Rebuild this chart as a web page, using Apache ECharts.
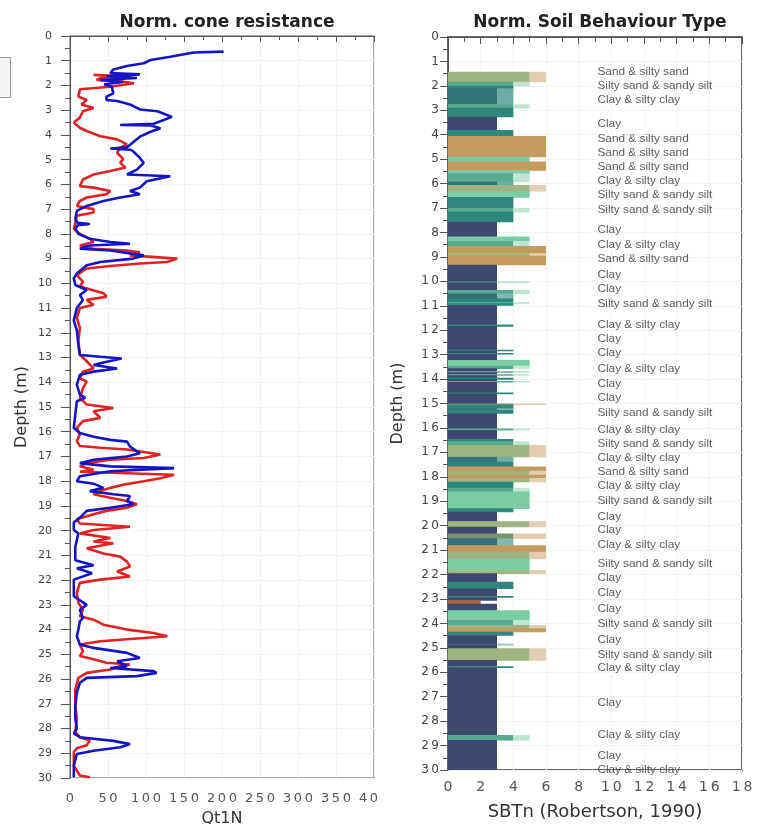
<!DOCTYPE html>
<html>
<head>
<meta charset="utf-8">
<script src="https://cdn.jsdelivr.net/npm/echarts/dist/echarts.min.js"></script>
<style>
html,body{margin:0;padding:0;background:#fff;}
#chart{width:762px;height:824px;}
</style>
</head>
<body>
<div id="chart"></div>
<script>
// ---------- DATA ----------
// Blue profile (Qt1N) : depth (m) and value
const blueDepth = [0.63,0.67,0.84,0.97,1.10,1.21,1.35,1.50,1.55,1.62,1.70,1.78,1.86,1.95,2.05,2.12,2.32,2.45,2.59,2.63,2.77,2.97,3.04,3.27,3.45,3.55,3.60,3.62,3.73,3.87,4.07,4.40,4.50,4.55,4.60,4.66,4.93,5.13,5.40,5.60,5.67,5.73,5.87,6.13,6.27,6.40,6.53,6.67,6.87,7.07,7.40,7.55,7.60,7.65,7.80,8.00,8.20,8.33,8.40,8.47,8.60,8.67,8.87,9.00,9.14,9.27,9.60,9.80,10.07,10.27,10.47,10.67,11.00,11.50,11.90,12.50,12.90,12.97,13.04,13.20,13.30,13.44,13.57,13.70,14.10,14.50,14.63,14.77,15.30,15.85,16.05,16.20,16.33,16.40,16.60,16.87,17.00,17.13,17.27,17.40,17.47,17.60,17.80,18.00,18.10,18.27,18.40,18.53,18.60,18.80,18.93,19.07,19.20,19.47,19.67,19.97,20.11,20.65,21.20,21.40,21.52,21.72,21.98,22.65,23.00,23.20,23.53,23.67,24.00,24.27,24.60,24.74,24.94,25.15,25.28,25.48,25.55,25.68,25.75,25.88,25.95,26.15,26.55,27.10,27.60,28.00,28.20,28.35,28.50,28.63,28.76,28.90,29.03,29.50,29.97];
const blueQt = [202,163,132,106,97,75,57,53,92,48,88,40,70,45,55,53,57,48,48,62,79,92,115,134,119,110,66,106,119,106,92,79,75,53,80,83,92,97,88,75,132,134,101,92,79,92,66,44,22,9,7,10,26,10,7,11,26,53,79,26,13,53,97,83,40,22,9,5,7,22,13,17,9,5,9,11,13,40,68,44,31,62,31,13,9,13,20,9,7,5,13,31,53,75,79,92,75,31,13,53,137,53,13,9,31,44,26,57,79,75,83,53,22,13,5,5,11,7,7,31,9,29,5,5,22,13,17,13,11,9,13,31,75,92,62,75,53,110,114,88,22,13,9,7,7,9,5,13,57,79,66,31,9,5,5];

// Red profile : depth (m) and value
const redDepth = [1.57,1.64,1.70,1.78,1.85,1.91,2.05,2.15,2.45,2.59,2.70,2.77,2.91,3.04,3.30,3.50,3.71,3.84,4.05,4.18,4.38,4.52,4.72,4.98,5.12,5.32,5.46,5.60,5.80,6.07,6.13,6.27,6.40,6.53,6.67,6.87,7.00,7.14,7.27,7.55,7.80,8.00,8.20,8.33,8.47,8.60,8.67,8.74,8.87,9.00,9.14,9.20,9.30,9.40,9.67,9.93,10.13,10.40,10.54,10.67,10.87,11.00,11.40,11.80,12.34,12.88,13.15,13.44,13.57,13.84,13.97,14.24,14.64,14.90,15.04,15.17,15.44,15.57,15.84,16.11,16.38,16.58,16.65,16.72,16.92,17.06,17.13,17.27,17.40,17.54,17.62,17.74,17.88,18.00,18.14,18.27,18.40,18.53,18.67,18.80,18.93,19.07,19.20,19.34,19.54,19.71,19.84,19.97,20.11,20.30,20.44,20.51,20.71,20.92,21.05,21.25,21.45,21.65,21.85,21.98,22.11,22.52,22.92,23.20,23.46,23.60,23.80,24.00,24.14,24.27,24.34,24.47,24.60,24.87,25.07,25.20,25.34,25.41,25.48,25.61,25.75,25.95,26.42,27.10,27.60,28.15,28.35,28.48,28.68,28.80,28.95,29.50,29.90,29.97];
const redQt = [31,75,40,35,70,84,53,13,11,22,18,15,31,17,13,5,13,22,40,62,75,66,62,70,66,73,53,31,17,13,31,53,48,22,13,9,31,31,9,7,5,13,26,31,13,31,75,92,79,141,128,92,53,22,9,17,13,44,48,22,31,13,9,13,11,13,22,31,17,13,22,17,13,22,57,31,40,17,9,13,9,13,40,75,119,97,53,22,13,31,13,137,119,97,70,53,40,31,53,75,88,75,48,31,9,13,79,31,13,53,31,57,22,44,66,75,79,62,79,40,13,9,11,17,13,31,44,75,110,128,97,40,13,17,13,31,48,79,66,53,22,11,7,7,9,7,13,26,22,9,5,5,13,26];

// SBTn layers: [top depth, bottom depth, low SBTn, high SBTn, share of high zone]
// (low != high => thin interleaved layers of both zones)
const sbtLayers = [
 [1.42,1.83,5,6,0.5],[1.83,2.00,4,5,0.5],[2.00,2.10,4,4,1],[2.10,2.75,3,4,0.7],[2.75,2.90,4,5,0.5],[2.90,3.26,4,4,1],
 [3.26,3.81,3,3,1],[3.81,4.05,4,4,1],[4.05,4.90,6,6,1],[4.90,5.10,5,5,1],[5.10,5.45,6,6,1],[5.45,5.58,5,5,1],
 [5.58,5.92,4,5,0.5],[5.92,6.06,3,4,0.7],[6.06,6.30,5,6,0.5],[6.30,6.55,5,5,1],[6.55,7.00,4,4,1],[7.00,7.15,4,5,0.5],
 [7.15,7.56,4,4,1],[7.56,8.17,3,3,1],[8.17,8.35,5,5,1],[8.35,8.55,4,5,0.5],[8.55,8.85,6,6,1],[8.85,8.95,5,6,0.5],
 [8.95,9.32,6,6,1],[9.32,10.00,3,3,1],[10.00,10.05,3,5,0.5],[10.05,10.35,3,3,1],[10.35,10.50,4,5,0.5],[10.50,10.70,3,4,0.6],
 [10.70,10.85,4,4,1],[10.85,10.90,4,5,0.5],[10.90,10.97,4,4,1],[10.97,11.77,3,3,1],[11.77,11.83,4,4,1],[11.83,12.80,3,3,1],
 [12.80,12.84,4,4,1],[12.84,12.93,3,3,1],[12.93,12.97,4,4,1],[12.97,13.22,3,3,1],[13.22,13.45,5,5,1],[13.45,13.56,4,5,0.5],
 [13.56,13.68,3,3,1],[13.68,13.72,4,5,0.5],[13.72,13.80,3,3,1],[13.80,13.84,4,5,0.5],[13.84,13.95,3,3,1],[13.95,14.00,4,4,1],
 [14.00,14.08,3,3,1],[14.08,14.12,4,5,0.5],[14.12,14.55,3,3,1],[14.55,14.60,4,4,1],[14.60,15.00,3,3,1],[15.00,15.05,4,6,0.5],
 [15.05,15.20,4,4,1],[15.20,15.27,3,4,0.6],[15.27,15.40,4,4,1],[15.40,16.02,3,3,1],[16.02,16.08,4,5,0.5],[16.08,16.45,3,3,1],
 [16.45,16.55,4,4,1],[16.55,16.70,4,5,0.5],[16.70,17.18,5,6,0.5],[17.18,17.38,3,4,0.7],[17.38,17.58,4,4,1],[17.58,17.75,6,6,1],
 [17.75,17.92,5,6,0.5],[17.92,18.05,6,6,1],[18.05,18.20,5,6,0.5],[18.20,18.45,4,4,1],[18.45,18.60,4,5,0.5],[18.60,19.29,5,5,1],
 [19.29,19.43,4,4,1],[19.43,19.82,3,3,1],[19.82,20.04,5,6,0.5],[20.04,20.32,3,3,1],[20.32,20.52,4,6,0.5],[20.52,20.80,3,4,0.6],
 [20.80,21.07,6,6,1],[21.07,21.35,5,6,0.5],[21.35,21.82,5,5,1],[21.82,21.95,5,6,0.5],[21.95,22.30,3,3,1],[22.30,22.57,4,4,1],
 [22.57,22.88,3,3,1],[22.88,22.93,4,4,1],[22.93,23.05,3,3,1],[23.05,23.20,2,2,1],[23.20,23.46,3,3,1],[23.46,23.86,5,5,1],
 [23.86,24.07,4,5,0.5],[24.07,24.20,5,6,0.5],[24.20,24.34,6,6,1],[24.34,24.48,4,4,1],[24.48,24.83,3,3,1],[24.83,24.88,3,4,0.5],
 [24.88,25.02,3,3,1],[25.02,25.50,5,6,0.5],[25.50,25.75,3,3,1],[25.75,25.80,4,4,1],[25.80,28.57,3,3,1],[28.57,28.77,4,5,0.5],
 [28.77,30.00,3,3,1]
];

// SBT description labels
const labelDepth = [1.42,2.00,2.58,3.56,4.15,4.73,5.31,5.89,6.47,7.08,7.90,8.51,9.09,9.72,10.31,10.90,11.79,12.36,12.92,13.56,14.18,14.76,15.38,16.06,16.63,17.20,17.79,18.38,18.98,19.63,20.18,20.78,21.54,22.12,22.75,23.39,24.00,24.66,25.27,25.82,27.25,28.54,29.43,30.00];
const labelText = ['Sand & silty sand','Silty sand & sandy silt','Clay & silty clay','Clay','Sand & silty sand','Sand & silty sand','Sand & silty sand','Clay & silty clay','Silty sand & sandy silt','Silty sand & sandy silt','Clay','Clay & silty clay','Sand & silty sand','Clay','Clay','Silty sand & sandy silt','Clay & silty clay','Clay','Clay','Clay & silty clay','Clay','Clay','Silty sand & sandy silt','Clay & silty clay','Silty sand & sandy silt','Clay & silty clay','Sand & silty sand','Clay & silty clay','Silty sand & sandy silt','Clay','Clay','Clay & silty clay','Silty sand & sandy silt','Clay','Clay','Clay','Silty sand & sandy silt','Clay','Silty sand & sandy silt','Clay & silty clay','Clay','Clay & silty clay','Clay','Clay & silty clay'];
const labelX = 9.12;

// ---------- STYLE HELPERS ----------
const zoneColor = {2:[178,101,61],3:[60,73,112],4:[47,135,124],5:[122,204,163],6:[195,155,94]};
const white = [255,255,255];
function mix(a,b,f){return 'rgb('+Math.round(a[0]*(1-f)+b[0]*f)+','+Math.round(a[1]*(1-f)+b[1]*f)+','+Math.round(a[2]*(1-f)+b[2]*f)+')';}
function spaced(v){return String(v).split('').join('\u2009');}

// choose a narrow font for SBT labels if available
let lblFont = '"Liberation Sans"', lblSize = 12;
(function(){
  const c = document.createElement('canvas').getContext('2d');
  const s = 'Silty sand & sandy silt';
  c.font = '12px "Liberation Sans Narrow", monospace'; const w1 = c.measureText(s).width;
  c.font = '12px monospace'; const w2 = c.measureText(s).width;
  if (Math.abs(w1-w2) > 0.5) { lblFont = '"Liberation Sans Narrow"'; }
  c.font = '12px ' + lblFont; const w = c.measureText(s).width;
  lblSize = Math.max(10, Math.min(14, 12*115/w));
})();

const FF = '"DejaVu Sans", Verdana, sans-serif';
const axisCol = '#555';
const labCol = '#555';

const chart = echarts.init(document.getElementById('chart'), null, {renderer:'canvas'});
const option = {
  backgroundColor:'#fff',
  animation:false,
  title:[
    {text:'Norm. cone resistance', left:222, top:9, textAlign:'center', textStyle:{fontFamily:FF, fontSize:17, fontWeight:'bold', color:'#222'}},
    {text:'Norm. Soil Behaviour Type', left:595, top:9, textAlign:'center', textStyle:{fontFamily:FF, fontSize:17, fontWeight:'bold', color:'#222'}}
  ],
  grid:[
    {left:70, top:36, width:304, height:742, show:true, borderColor:'#555', borderWidth:1, backgroundColor:'#fff', outerBoundsMode:'none', containLabel:false},
    {left:448, top:37, width:294, height:733, show:true, borderColor:'#666', borderWidth:2, backgroundColor:'#fff', outerBoundsMode:'none', containLabel:false}
  ],
  xAxis:[
    {gridIndex:0, type:'value', min:0, max:400, interval:50, position:'bottom',
     axisLine:{show:true, lineStyle:{color:axisCol}}, axisTick:{show:true, length:6, lineStyle:{color:axisCol}},
     minorTick:{show:true, splitNumber:2, length:4, lineStyle:{color:axisCol}},
     splitLine:{show:true, lineStyle:{color:'#f1f1f1'}},
     axisLabel:{fontFamily:FF, fontSize:13, color:labCol, margin:14, formatter:spaced},
     name:'Qt1N', nameLocation:'middle', nameGap:33, nameTextStyle:{fontFamily:FF, fontSize:16, color:'#333'}},
    {gridIndex:1, type:'value', min:0, max:18, interval:2, position:'bottom',
     axisLine:{show:true, lineStyle:{color:axisCol}}, axisTick:{show:true, length:7, lineStyle:{color:axisCol}},
     minorTick:{show:true, splitNumber:2, length:5, lineStyle:{color:axisCol}},
     splitLine:{show:true, lineStyle:{color:'#f3f3f3'}},
     axisLabel:{fontFamily:FF, fontSize:14, color:labCol, margin:10, formatter:spaced},
     name:'SBTn (Robertson, 1990)', nameLocation:'middle', nameGap:33, nameTextStyle:{fontFamily:FF, fontSize:18, color:'#333'}}
  ],
  yAxis:[
    {gridIndex:0, type:'value', inverse:true, min:0, max:30, interval:1,
     axisLine:{show:true, lineStyle:{color:axisCol}}, axisTick:{show:true, length:9, lineStyle:{color:axisCol}},
     minorTick:{show:true, splitNumber:2, length:5, lineStyle:{color:axisCol}},
     splitLine:{show:true, lineStyle:{color:'#f3f3f3'}},
     axisLabel:{fontFamily:FF, fontSize:11, color:'#444', margin:18},
     name:'Depth (m)', nameLocation:'middle', nameGap:40, nameRotate:90, nameTextStyle:{fontFamily:FF, fontSize:16, color:'#333'}},
    {gridIndex:1, type:'value', inverse:true, min:0, max:30, interval:1,
     axisLine:{show:true, lineStyle:{color:axisCol}}, axisTick:{show:true, length:8, lineStyle:{color:axisCol}},
     minorTick:{show:true, splitNumber:2, length:5, lineStyle:{color:axisCol}},
     splitLine:{show:true, lineStyle:{color:'#f3f3f3'}},
     axisLabel:{fontFamily:FF, fontSize:12, color:'#444', margin:9, formatter:spaced},
     name:'Depth (m)', nameLocation:'middle', nameGap:42, nameRotate:90, nameTextStyle:{fontFamily:FF, fontSize:16, color:'#333'}}
  ],
  series:[
    {type:'line', xAxisIndex:0, yAxisIndex:0, symbol:'none', z:3,
     lineStyle:{color:'#e02222', width:2.6}, data: redDepth.map((d,i)=>[redQt[i], d])},
    {type:'line', xAxisIndex:0, yAxisIndex:0, symbol:'none', z:4,
     lineStyle:{color:'#1414c4', width:2.6}, data: blueDepth.map((d,i)=>[blueQt[i], d])},
    {type:'custom', xAxisIndex:1, yAxisIndex:1, clip:true, z:2,
     encode:{x:[2,3], y:[0,1]},
     data: sbtLayers,
     renderItem:function(params, api){
       const top=api.value(0), bot=api.value(1), lo=api.value(2), hi=api.value(3), f=api.value(4);
       const a=api.coord([0,top]), b=api.coord([lo,bot]), c=api.coord([hi,bot]);
       const h=b[1]-a[1]+0.6;
       const ch=[{type:'rect', shape:{x:a[0], y:a[1], width:b[0]-a[0], height:h},
                  style:{fill: lo===hi ? mix(zoneColor[lo], zoneColor[lo], 0) : mix(zoneColor[lo], zoneColor[hi], f)}}];
       if (hi>lo) ch.push({type:'rect', shape:{x:b[0], y:a[1], width:c[0]-b[0], height:h},
                  style:{fill: mix(white, zoneColor[hi], f)}});
       return {type:'group', children:ch};
     }},
    {type:'scatter', xAxisIndex:1, yAxisIndex:1, symbolSize:1, z:5, silent:true,
     itemStyle:{color:'rgba(0,0,0,0)'},
     label:{show:true, position:'right', distance:0, formatter:'{b}', fontFamily:lblFont, fontSize:lblSize, color:'#333'},
     data: labelDepth.map((d,i)=>({name:labelText[i], value:[labelX, d]}))}
  ],
  graphic:[
    {type:'rect', left:-1, top:57, shape:{width:11, height:40}, style:{fill:'#f4f4f4', stroke:'#9a9a9a', lineWidth:1}, z:10},
    {type:'rect', left:378, top:786, shape:{width:14, height:22}, style:{fill:'#fff'}, z:10}
  ]
};
chart.setOption(option);
</script>
</body>
</html>
